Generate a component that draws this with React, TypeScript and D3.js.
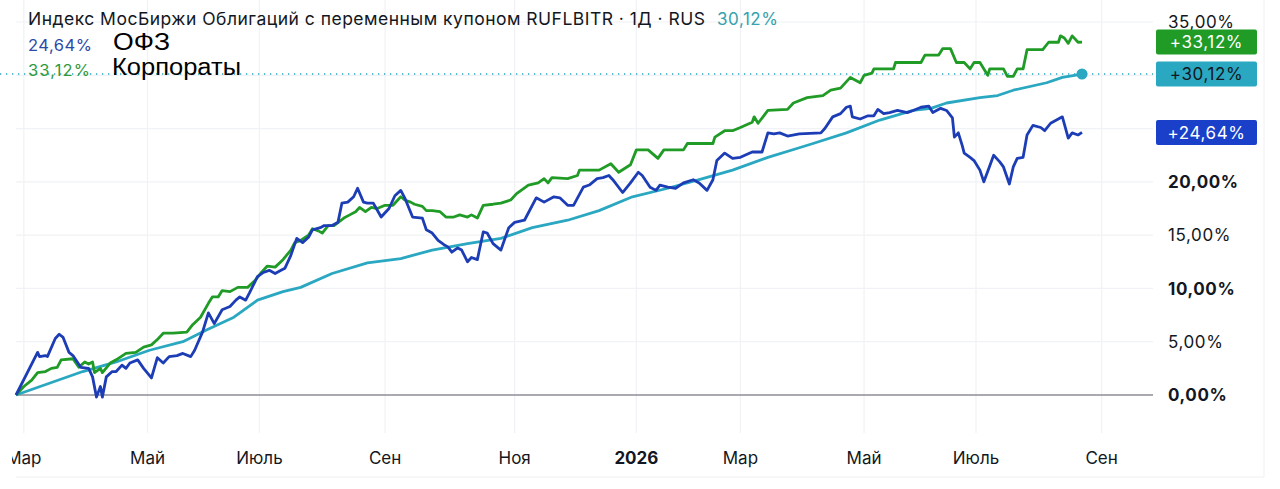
import React from 'react';
import * as d3 from 'd3';

// x is a bar offset from the first bar (TradingView style index axis)
const ofz: [number, number][] = [
  [0, 0], [11, 4.0], [12, 3.6], [15, 3.7], [16, 3.6], [20, 5.3], [22, 5.7], [24, 5.4], [27, 4.0], [29, 3.7],
  [33, 2.6], [37, 2.5], [39, 1.7], [41, -0.2], [43, 0.8], [44, -0.2], [46, 1.7], [49, 2.2], [51, 2.2], [54, 2.8],
  [56, 2.5], [58, 3.0], [62, 3.3], [65, 2.5], [69, 1.6], [72, 3.5], [75, 3.0], [78, 3.6], [82, 3.7], [85, 3.9],
  [89, 3.6], [91, 4.2], [95, 5.9], [98, 7.7], [101, 6.7], [105, 8.0], [109, 8.3], [112, 8.9], [114, 9.2], [117, 8.9],
  [119, 9.6], [123, 11.1], [126, 11.5], [129, 11.7], [132, 11.4], [135, 11.7], [137, 11.9], [140, 13.1], [143, 14.7], [146, 14.3],
  [149, 14.8], [151, 15.5], [155, 15.7], [157, 15.9], [161, 15.9], [164, 16.2], [166, 18.0], [169, 18.1], [172, 18.6], [174, 19.4],
  [177, 18.1], [179, 18.0], [182, 18.0], [186, 16.7], [190, 17.5], [193, 18.7], [196, 19.2], [198, 18.5], [202, 16.7], [207, 16.6],
  [209, 15.5], [212, 15.2], [215, 14.5], [218, 14.1], [220, 13.9], [222, 13.4], [225, 13.8], [227, 13.6], [230, 12.5], [232, 12.9],
  [235, 12.7], [238, 15.3], [240, 15.2], [243, 14.2], [247, 13.6], [251, 15.7], [254, 16.2], [259, 16.4], [265, 18.5], [269, 18.1],
  [274, 18.6], [277, 18.5], [281, 17.8], [284, 17.8], [289, 19.5], [292, 19.7], [296, 20.3], [299, 20.4], [302, 20.6], [304, 20.2],
  [309, 19.0], [313, 19.9], [317, 20.9], [319, 20.6], [323, 19.5], [326, 19.2], [328, 19.7], [332, 19.5], [336, 19.4], [340, 19.9],
  [345, 20.2], [348, 19.9], [352, 19.2], [355, 20.2], [357, 22.0], [361, 22.7], [365, 22.2], [369, 22.3], [375, 22.8], [380, 22.8],
  [383, 24.6], [386, 24.5], [389, 24.6], [393, 24.3], [399, 24.5], [410, 24.6], [412, 25.0], [416, 26.1], [420, 26.4], [423, 27.0],
  [425, 27.1], [426, 26.1], [430, 25.9], [434, 26.2], [437, 26.2], [439, 26.8], [442, 26.4], [445, 26.5], [449, 26.7], [454, 26.5],
  [457, 26.7], [461, 27.0], [465, 27.1], [467, 26.5], [471, 26.9], [474, 26.7], [477, 26.0], [478, 24.2], [480, 24.6], [482, 23.4],
  [483, 22.7], [486, 22.3], [488, 22.0], [491, 21.1], [493, 20.0], [495, 21.0], [498, 22.5], [501, 21.9], [503, 21.4], [506, 19.8],
  [508, 21.4], [510, 22.2], [513, 22.3], [515, 24.4], [518, 25.3], [522, 25.1], [524, 24.8], [527, 25.5], [530, 25.8], [533, 26.1],
  [536, 24.1], [538, 24.6], [541, 24.4], [543, 24.64],
];

const corp: [number, number][] = [
  [0, 0], [4, 0.8], [8, 1.4], [11, 2.1], [15, 2.2], [18, 2.5], [21, 2.6], [23, 3.3], [29, 3.4], [32, 2.6],
  [35, 3.1], [37, 2.9], [39, 3.1], [40, 2.1], [43, 2.5], [44, 2.1], [48, 3.0], [51, 3.3], [56, 3.9], [61, 4.0],
  [65, 4.5], [69, 4.7], [72, 5.2], [75, 5.8], [80, 5.8], [87, 5.9], [90, 6.6], [94, 7.3], [98, 8.6], [100, 9.2],
  [103, 9.2], [105, 9.8], [109, 9.7], [113, 10.1], [118, 10.1], [122, 10.8], [125, 11.5], [128, 12.1], [132, 12.0], [136, 12.7],
  [140, 13.6], [142, 14.3], [145, 14.5], [149, 15.0], [151, 15.6], [154, 15.4], [156, 15.2], [159, 15.9], [162, 15.9], [167, 16.6],
  [170, 16.9], [173, 17.2], [175, 17.6], [178, 17.2], [181, 17.6], [184, 17.5], [188, 17.8], [192, 17.8], [196, 18.6], [198, 18.3],
  [201, 18.1], [203, 17.9], [207, 17.7], [209, 17.3], [212, 17.3], [216, 17.2], [219, 16.7], [223, 16.7], [226, 16.9], [230, 16.7],
  [232, 16.9], [235, 16.6], [238, 17.8], [243, 17.9], [247, 18.0], [252, 18.3], [255, 18.9], [261, 19.7], [266, 19.9], [269, 20.3],
  [271, 19.9], [273, 20.4], [281, 20.3], [286, 20.6], [287, 21.1], [297, 21.1], [303, 21.7], [307, 20.9], [313, 21.6], [316, 23.0],
  [322, 23.0], [327, 22.2], [330, 23.0], [340, 23.0], [342, 23.6], [355, 23.6], [356, 24.2], [361, 24.8], [365, 24.8], [369, 25.1],
  [375, 25.6], [376, 26.1], [378, 25.5], [383, 26.7], [393, 26.8], [396, 27.4], [403, 27.9], [411, 28.1], [415, 28.6], [420, 28.8],
  [425, 29.8], [430, 29.3], [432, 30.0], [436, 30.2], [437, 30.6], [447, 30.6], [448, 31.2], [461, 31.2], [463, 31.9], [470, 31.9],
  [472, 32.5], [476, 32.5], [479, 31.2], [483, 31.2], [486, 30.6], [488, 31.2], [491, 31.2], [495, 30.0], [496, 30.6], [503, 30.6],
  [505, 29.9], [508, 29.9], [510, 30.6], [513, 30.6], [515, 32.4], [523, 32.4], [526, 33.1], [531, 33.1], [532, 33.7], [534, 33.5],
  [536, 33.0], [538, 33.7], [541, 33.1], [543, 33.12],
];

const ruflbitr: [number, number][] = [
  [0, 0], [17, 1.1], [34, 2.2], [51, 3.1], [68, 4.2], [85, 5.0], [97, 6.1], [111, 7.3], [123, 8.9], [136, 9.7],
  [145, 10.1], [161, 11.4], [179, 12.4], [196, 12.8], [212, 13.6], [230, 14.2], [247, 14.7], [263, 15.7], [281, 16.4], [297, 17.3],
  [314, 18.6], [332, 19.4], [348, 20.2], [365, 21.1], [383, 22.3], [399, 23.2], [406, 23.6], [423, 24.6], [440, 25.8], [457, 26.7],
  [466, 26.9], [474, 27.4], [491, 27.9], [500, 28.1], [508, 28.6], [525, 29.3], [533, 29.8], [543, 30.12],
];

const monthTicks = [4, 67, 124, 188, 254, 316, 369, 432, 489, 553];
const monthLabels = ['Мар', 'Май', 'Июль', 'Сен', 'Ноя', '2026', 'Мар', 'Май', 'Июль', 'Сен'];
const yTicks = [0, 5, 10, 15, 20, 35];
const yBold = [0, 10, 20];
const gridValues = [0, 5, 10, 15, 20, 25, 30, 35];

const BLUE = '#1c3db5';
const GREEN = '#1f9b26';
const TEAL = '#2aa7c1';
const TEXT = '#131722';
const GRID = '#f0f2f5';

const fmt = (v: number) => v.toFixed(2).replace('.', ',') + '%';

export default function App() {
  const W = 1280, H = 489;
  const x = d3.scaleLinear().domain([0, 543]).range([16, 1082]);
  const y = d3.scaleLinear().domain([0, 35]).range([395, 22]);
  const plotRight = 1153;

  const line = d3.line<[number, number]>()
    .x(d => x(d[0]))
    .y(d => y(d[1]));

  const lastOfz = ofz[ofz.length - 1];
  const lastCorp = corp[corp.length - 1];
  const lastIdx = ruflbitr[ruflbitr.length - 1];

  const badges = [
    { v: lastCorp[1], fill: GREEN, color: '#fff' },
    { v: lastIdx[1], fill: TEAL, color: TEXT },
    { v: lastOfz[1], fill: '#1a3fc9', color: '#fff' },
  ];

  const font = 'Inter, Roboto, "Noto Sans", sans-serif';

  return (
    <svg width={W} height={H} style={{ position: 'absolute', left: 0, top: 0, background: '#fff' }}
      fontFamily={font}>
      <defs>
        <clipPath id="xclip">
          <rect x={12} y={430} width={1250} height={50} />
        </clipPath>
      </defs>

      {/* grid */}
      {monthTicks.map((t, i) => (
        <line key={'v' + i} x1={x(t)} x2={x(t)} y1={0} y2={433} stroke={GRID} strokeWidth={1.2} />
      ))}
      {gridValues.map(v => (
        <line key={'h' + v} x1={16} x2={plotRight} y1={y(v)} y2={y(v)}
          stroke={v === 0 ? '#8b8e96' : GRID} strokeWidth={v === 0 ? 1.5 : 1.2} />
      ))}
      <line x1={1264} x2={1264} y1={0} y2={477} stroke="#eef0f3" />
      <line x1={16} x2={1264} y1={477} y2={477} stroke="#eef0f3" />

      {/* last value price line */}
      <line x1={0} x2={plotRight} y1={y(lastIdx[1])} y2={y(lastIdx[1])}
        stroke={TEAL} strokeWidth={1.3} strokeDasharray="1.3,4.7" />

      {/* series */}
      <path d={line(ruflbitr) || ''} fill="none" stroke={TEAL} strokeWidth={2.8} strokeLinejoin="round" />
      <path d={line(corp) || ''} fill="none" stroke={GREEN} strokeWidth={2.8} strokeLinejoin="round" />
      <path d={line(ofz) || ''} fill="none" stroke={BLUE} strokeWidth={2.8} strokeLinejoin="round" />
      <circle cx={x(lastIdx[0])} cy={y(lastIdx[1])} r={5.5} fill={TEAL} />

      {/* right axis */}
      {yTicks.map(v => (
        <text key={'yt' + v} x={1168} y={y(v)} dy="0.36em" fontSize={17} fill={TEXT}
          fontWeight={yBold.includes(v) ? 700 : 400} letterSpacing={0.6}>{fmt(v)}</text>
      ))}
      {badges.map((b, i) => (
        <g key={'b' + i}>
          <rect x={1156} y={y(b.v) - 12.5} width={101} height={25} rx={2} fill={b.fill} />
          <text x={1206.5} y={y(b.v)} dy="0.36em" textAnchor="middle" fontSize={17} fill={b.color}
            letterSpacing={0.6}>{'+' + fmt(b.v)}</text>
        </g>
      ))}

      {/* bottom axis */}
      <g clipPath="url(#xclip)">
        {monthTicks.map((t, i) => (
          <text key={'xt' + i} x={x(t)} y={464} textAnchor="middle" fontSize={17} fill={TEXT}
            fontWeight={monthLabels[i] === '2026' ? 700 : 400}>{monthLabels[i]}</text>
        ))}
      </g>

      {/* legend */}
      <text x={28} y={25} fontSize={17.5} fill={TEXT} textLength={677} lengthAdjust="spacing">
        Индекс МосБиржи Облигаций с переменным купоном RUFLBITR · 1Д · RUS
      </text>
      <text x={717} y={25} fontSize={17} fill="#35a2ad" textLength={61} lengthAdjust="spacing">{fmt(lastIdx[1])}</text>
      <text x={28} y={51} fontSize={16.5} fill="#2b4aa6" textLength={64} lengthAdjust="spacing">{fmt(lastOfz[1])}</text>
      <text x={28} y={76} fontSize={16.5} fill="#2f9a3c" textLength={62} lengthAdjust="spacing">{fmt(lastCorp[1])}</text>
      <text x={113} y={50} fontSize={23} fill="#000" fontFamily='"Liberation Sans", Arial, sans-serif'
        textLength={57} lengthAdjust="spacingAndGlyphs">ОФЗ</text>
      <text x={112} y={75} fontSize={23} fill="#000" fontFamily='"Liberation Sans", Arial, sans-serif'
        textLength={129} lengthAdjust="spacingAndGlyphs">Корпораты</text>
    </svg>
  );
}
